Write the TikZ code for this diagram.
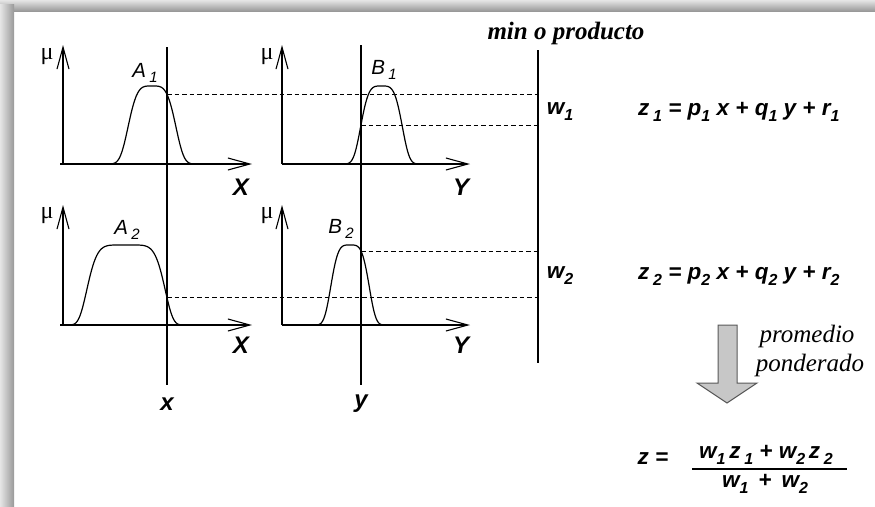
\documentclass[tikz,border=0pt]{standalone}
\usepackage{fontspec}
\setmainfont{Liberation Serif}
\newfontfamily\arialf{Liberation Sans}
\usetikzlibrary{arrows.meta}
\newcommand\sbx[1]{\raisebox{-0.5ex}{\fontsize{16}{16}\selectfont #1}}
\newcommand\sbl[1]{\raisebox{-0.4ex}{\fontsize{15}{15}\selectfont #1}}
\tikzset{
  declare function={gfour(\t)=exp(-min(9,(\t*\t)*(\t*\t))); gsix(\t)=exp(-min(9,(\t*\t)*(\t*\t)*(\t*\t)));},
  ax/.style={line width=1.1pt, -{Straight Barb[length=22pt,width=12pt,line width=1.1pt]}},
  vline/.style={line width=1.1pt},
  curve/.style={line width=1.2pt, line join=round},
  dline/.style={line width=1.1pt, dash pattern=on 4.5pt off 3pt},
  mulab/.style={font=\fontsize{24}{24}\selectfont, inner sep=0pt},
  setlab/.style={font=\arialf\itshape\fontsize{20.5}{20.5}\selectfont, inner sep=0pt},
  axlab/.style={font=\arialf\bfseries\itshape\fontsize{24}{24}\selectfont, inner sep=0pt},
  eqlab/.style={font=\arialf\bfseries\itshape\fontsize{22.5}{22.5}\selectfont, inner sep=0pt},
  serlab/.style={font=\bfseries\itshape\fontsize{25}{25}\selectfont, inner sep=0pt},
  serit/.style={font=\itshape\fontsize{25}{25}\selectfont, inner sep=0pt},
}
\begin{document}
\begin{tikzpicture}[x=1pt,y=-1pt]
\useasboundingbox (0,0) rectangle (875,506);
\fill[white] (0,0) rectangle (875,506);
\shade[top color=white!90!black, bottom color=black!40] (0,0) rectangle (875,11);
\shade[left color=white!90!black, right color=black!40] (0,4) rectangle (14,506);

% axes row 1
\coordinate (a1o) at (60,164); \coordinate (a1v) at (63,164);
\coordinate (a1t) at (63,45);  \coordinate (a1r) at (252,164);
\coordinate (b1o) at (282,164);
\coordinate (b1t) at (282,45); \coordinate (b1r) at (470,164);
% axes row 2
\coordinate (a2o) at (60,325); \coordinate (a2v) at (63,325);
\coordinate (a2t) at (63,205); \coordinate (a2r) at (252,325);
\coordinate (b2o) at (282,325);
\coordinate (b2t) at (282,205); \coordinate (b2r) at (470,325);

\draw[ax] (a1v) -- (a1t); \draw[ax] (a1o) -- (a1r);
\draw[ax] (b1o) -- (b1t); \draw[ax] (b1o) -- (b1r);
\draw[ax] (a2v) -- (a2t); \draw[ax] (a2o) -- (a2r);
\draw[ax] (b2o) -- (b2t); \draw[ax] (b2o) -- (b2r);

% membership curves
\draw[curve] plot[domain=105:200, samples=150, smooth] (\x, {164 - 78*gfour((\x-152)/25.8)});
\draw[curve] plot[domain=66:195, samples=160, smooth] (\x, {325 - 80*gsix((\x-126)/40.5)});
\draw[curve] plot[domain=335:430, samples=150, smooth] (\x, {164 - 78*gfour((\x-381.5)/22.5)});
\draw[curve] plot[domain=303:398, samples=150, smooth] (\x, {325 - 80*gfour((\x-350)/20.8)});

% vertical lines
\coordinate (xt) at (167,47);  \coordinate (xb) at (167,385);
\coordinate (yt) at (361,45);  \coordinate (yb) at (361,385);
\coordinate (wt) at (538,50);  \coordinate (wb) at (538,363);
\draw[vline] (xt) -- (xb);
\draw[vline] (yt) -- (yb);
\draw[vline] (wt) -- (wb);

% dashed levels
\coordinate (pA1) at (167,94.5);   \coordinate (eA1) at (538,94.5);
\coordinate (pB1) at (361,125.5);  \coordinate (eB1) at (538,125.5);
\coordinate (pB2) at (361,251.5);  \coordinate (eB2) at (538,251.5);
\coordinate (pA2) at (167,297.5);  \coordinate (eA2) at (538,297.5);
\draw[dline] (pA1) -- (eA1);
\draw[dline] (pB1) -- (eB1);
\draw[dline] (pB2) -- (eB2);
\draw[dline] (pA2) -- (eA2);

% labels
\node[mulab] (mu1) at (47,57) {μ};
\node[mulab] (mu2) at (267,57) {μ};
\node[mulab] (mu3) at (47,216) {μ};
\node[mulab] (mu4) at (267,216) {μ};
\node[setlab] (lA1) at (145,73) {A\,\sbl{1}};
\node[setlab] (lB1) at (384,70) {B\,\sbl{1}};
\node[setlab] (lA2) at (127,230) {A\,\sbl{2}};
\node[setlab] (lB2) at (341,229) {B\,\sbl{2}};
\node[axlab] (lX1) at (241,187) {X};
\node[axlab] (lY1) at (461,187) {Y};
\node[axlab] (lX2) at (241,345) {X};
\node[axlab] (lY2) at (461,345) {Y};
\node[axlab] (lx) at (167,404) {x};
\node[axlab] (ly) at (361,404) {y};
\node[eqlab] (w1) at (560,112) {w\sbx{1}};
\node[eqlab] (w2) at (560,276) {w\sbx{2}};
\node[serlab] (minp) at (566,33) {min o producto};

\node[eqlab, anchor=west] (z1) at (638,112) {z\,\sbx{1} = p\sbx{1} x + q\sbx{1} y + r\sbx{1}};
\node[eqlab, anchor=west] (z2) at (638,276) {z\,\sbx{2} = p\sbx{2} x + q\sbx{2} y + r\sbx{2}};

% block arrow
\draw[fill=black!22, draw=black!65, line width=1pt, line join=miter]
  (718,325) -- (737,325) -- (737,383) -- (757,383) -- (727,403) -- (697,383) -- (718,383) -- cycle;
\node[serit] (prom) at (807,336) {promedio};
\node[serit] (pond) at (810,365) {ponderado};

% final formula
\node[eqlab] (zeq) at (653,459) {z =};
\node[eqlab] (num) at (766,455) {w\sbx{1}\,z\,\sbx{1} + w\sbx{2}\,z\,\sbx{2}};
\node[eqlab] (den) at (765,484) {w\sbx{1} \,+\, w\sbx{2}};
\coordinate (barl) at (692,469); \coordinate (barr) at (847,469);
\draw[line width=1.3pt] (barl) -- (barr);
\end{tikzpicture}
\end{document}
